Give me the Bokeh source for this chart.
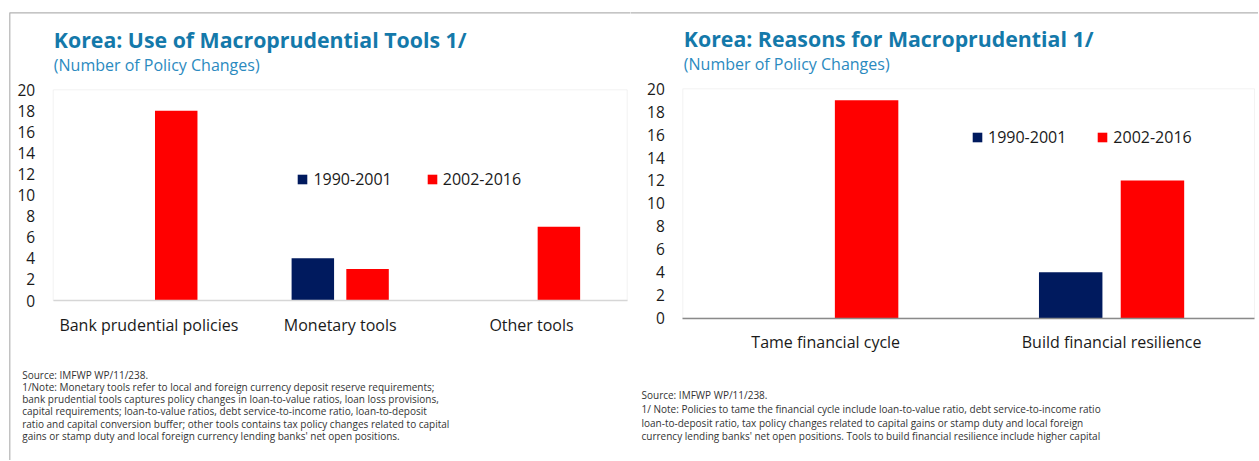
from bokeh.plotting import figure
from bokeh.models import (ColumnDataSource, Range1d, FixedTicker, Legend, LegendItem,
                          Label, BoxAnnotation, LinearAxis)
from bokeh.transform import dodge
from bokeh.layouts import row
from bokeh.embed import file_html
from bokeh.resources import INLINE

# ---------------- data ----------------
series_names = ["1990-2001", "2002-2016"]
series_colors = ["#001a5e", "#ff0000"]

tools_cats = ["Bank prudential policies", "Monetary tools", "Other tools"]
tools_1990_2001 = [0, 4, 0]
tools_2002_2016 = [18, 3, 7]

reasons_cats = ["Tame financial cycle", "Build financial resilience"]
reasons_1990_2001 = [0, 4]
reasons_2002_2016 = [19, 12]

y_ticks = [0, 2, 4, 6, 8, 10, 12, 14, 16, 18, 20]

left_title = "Korea: Use of Macroprudential Tools 1/"
right_title = "Korea: Reasons for Macroprudential 1/"
subtitle = "(Number of Policy Changes)"

left_notes = [
    "Source: IMFWP WP/11/238.",
    "1/Note: Monetary tools refer to local and foreign currency deposit reserve requirements;",
    "bank prudential tools captures policy changes in loan-to-value ratios, loan loss provisions,",
    "capital requirements; loan-to-value ratios, debt service-to-income ratio, loan-to-deposit",
    "ratio and capital conversion buffer; other tools contains tax policy changes related to capital",
    "gains or stamp duty and local foreign currency lending banks' net open positions.",
]
right_notes = [
    "Source: IMFWP WP/11/238.",
    "1/ Note: Policies to tame the financial cycle include loan-to-value ratio, debt service-to-income ratio",
    "loan-to-deposit ratio, tax policy changes related to capital gains or stamp duty and local foreign",
    "currency lending banks' net open positions. Tools to build financial resilience include higher capital",
]

FONT = "Open Sans"
TITLE_COLOR = "#1479aa"
SUB_COLOR = "#2b8ac0"
TEXT_COLOR = "#1a1a1a"
NOTE_COLOR = "#333333"
H = 460


def make_panel(cats, v1, v2, width, box_px, title, notes, legend_xy, legend_spacing,
               title_xy, sub_xy, note_x, note_base0, note_dy, bottom_axis_color, frame_left):
    n = len(cats)
    y0, y1 = y_ticks[0], y_ticks[-1]
    L, R, T, B = box_px  # pixel box of the data area inside the canvas
    xs = (R - L) / n
    ys = (B - T) / (y1 - y0)
    x_range = Range1d(0 - L / xs, n + (width - R) / xs)
    y_range = Range1d(y0 - (H - B) / ys, y1 + T / ys)

    p = figure(x_range=x_range, y_range=y_range, width=width, height=H,
               output_backend="svg", toolbar_location=None,
               x_axis_type=None, y_axis_type=None,
               min_border=0, min_border_left=0, min_border_right=0,
               min_border_top=0, min_border_bottom=0)
    p.background_fill_color = "white"
    p.border_fill_color = "white"
    p.outline_line_color = None
    p.grid.visible = False

    # plot-area box
    p.add_layout(BoxAnnotation(left=0, right=n, bottom=y0, top=y1, fill_alpha=0,
                               line_color="#d6d6d6", line_width=1, level="underlay"))

    pos = [i + 0.5 for i in range(n)]
    src = ColumnDataSource(dict(pos=pos, cat=cats, a=v1, b=v2))
    r1 = p.vbar(x=dodge("pos", -0.143), top="a", width=0.222, source=src,
                fill_color=series_colors[0], line_color=None)
    r2 = p.vbar(x=dodge("pos", 0.143), top="b", width=0.222, source=src,
                fill_color=series_colors[1], line_color=None)

    ya = LinearAxis(fixed_location=0, ticker=FixedTicker(ticks=y_ticks))
    ya.axis_line_color = None
    ya.major_tick_line_color = None
    ya.minor_tick_line_color = None
    ya.major_tick_out = 0
    ya.major_tick_in = 0
    ya.major_label_standoff = 18
    ya.major_label_text_font = FONT
    ya.major_label_text_font_size = "15.5px"
    ya.major_label_text_color = TEXT_COLOR
    p.add_layout(ya, "left")

    xa = LinearAxis(fixed_location=y0, ticker=FixedTicker(ticks=pos), bounds=(0, n),
                    major_label_overrides={pp: c for pp, c in zip(pos, cats)})
    xa.axis_line_color = bottom_axis_color
    xa.axis_line_width = 1.3
    xa.major_tick_line_color = None
    xa.minor_tick_line_color = None
    xa.major_tick_out = 0
    xa.major_tick_in = 0
    xa.major_label_standoff = 13
    xa.major_label_text_font = FONT
    xa.major_label_text_font_size = "16px"
    xa.major_label_text_color = TEXT_COLOR
    p.add_layout(xa, "below")

    leg = Legend(items=[LegendItem(label=series_names[0], renderers=[r1]),
                        LegendItem(label=series_names[1], renderers=[r2])],
                 orientation="horizontal", location=legend_xy,
                 glyph_width=12, glyph_height=12, label_standoff=5,
                 spacing=legend_spacing, padding=0, margin=0,
                 border_line_color=None, background_fill_alpha=0,
                 label_text_font=FONT, label_text_font_size="16px",
                 label_text_color=TEXT_COLOR, label_height=12)
    p.add_layout(leg, "center")

    p.add_layout(Label(x=title_xy[0], y=H - title_xy[1], x_units="screen", y_units="screen",
                       text=title, text_font=FONT, text_font_size="21.3px",
                       text_font_style="bold", text_color=TITLE_COLOR,
                       text_baseline="alphabetic"))
    p.add_layout(Label(x=sub_xy[0], y=H - sub_xy[1], x_units="screen", y_units="screen",
                       text=subtitle, text_font=FONT, text_font_size="16px",
                       text_color=SUB_COLOR, text_baseline="alphabetic"))
    for i, line in enumerate(notes):
        p.add_layout(Label(x=note_x, y=H - (note_base0 + i * note_dy), x_units="screen",
                           y_units="screen", text=line, text_font=FONT,
                           text_font_size="10px", text_color=NOTE_COLOR,
                           text_baseline="alphabetic"))

    p.add_layout(BoxAnnotation(left=frame_left, right=3000, top=12.3, bottom=3000,
                               left_units="canvas", right_units="canvas",
                               top_units="canvas", bottom_units="canvas",
                               fill_alpha=0, line_color="black", line_width=1.2))
    return p


p1 = make_panel(tools_cats, tools_1990_2001, tools_2002_2016, 630,
                (52.7, 626.7, 89.3, 300.0), left_title, left_notes,
                (296.4, H - 190), 34, (53.3, 38.7), (53.3, 64.5), 21.7, 374, 12.25,
                "#d6d6d6", 9.3)
p2 = make_panel(reasons_cats, reasons_1990_2001, reasons_2002_2016, 628,
                (52.3, 624.0, 88.3, 317.5), right_title, right_notes,
                (341.0, H - 147.7), 30, (53.3, 38.2), (53.3, 63.5), 11, 394.2, 13.9,
                "#8a8a8a", -20)

layout = row(p1, p2, spacing=0)
open("out.html", "w").write(file_html(layout, INLINE))
